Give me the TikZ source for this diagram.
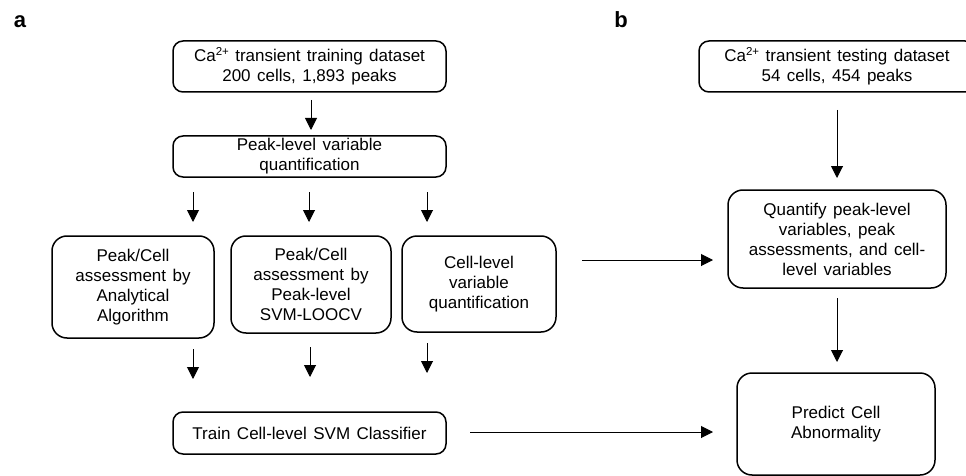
\documentclass[tikz,border=0pt]{standalone}
\usepackage{fontspec}
\setmainfont{Liberation Sans}
\usetikzlibrary{arrows.meta}
\newcommand{\ionsup}[1]{\raisebox{0.36em}{\fontsize{11.5}{11.5}\selectfont #1}}
\newcommand{\boxfont}{\fontsize{17}{20}\selectfont\spaceskip=0.38em plus 0.1em\relax}
\begin{document}
\begin{tikzpicture}[x=1pt,y=-1pt,
  box/.style={draw=black, line width=1.5pt, rounded corners=10pt, align=center,
    inner sep=0pt, font=\boxfont},
  arr/.style={line width=1pt, -{Triangle[width=12pt,length=12pt]}},
  panel/.style={font=\fontsize{22}{24}\selectfont\bfseries}]
\useasboundingbox (0,0) rectangle (966,476);
\clip (0,0) rectangle (966,476);

% panel letters
\node[panel] (la) at (20,22) {a};
\node[panel] (lb) at (621,20) {b};

% panel a boxes
\node[box, minimum width=273pt, minimum height=51pt] (train1) at (309.5,66.5)
  {Ca\ionsup{2+} transient training dataset\\200 cells, 1,893 peaks};
\node[box, minimum width=273pt, minimum height=41pt] (pq) at (309.5,156.5)
  {Peak-level variable\\quantification};
\node[box, rounded corners=15pt, minimum width=162pt, minimum height=102pt] (pa) at (133,287)
  {Peak/Cell\\assessment by\\Analytical\\Algorithm};
\node[box, rounded corners=15pt, minimum width=160pt, minimum height=97pt] (pb) at (311,284.5)
  {Peak/Cell\\assessment by\\Peak-level\\SVM-LOOCV};
\node[box, rounded corners=15pt, minimum width=154pt, minimum height=96pt] (cq) at (479,284)
  {Cell-level\\variable\\quantification};
\node[box, minimum width=273pt, minimum height=42pt] (tr) at (309.5,433)
  {Train Cell-level SVM Classifier};

% panel b boxes
\node[box, minimum width=276pt, minimum height=51pt] (test) at (837,66.5)
  {Ca\ionsup{2+} transient testing dataset\\54 cells, 454 peaks};
\node[box, rounded corners=15pt, minimum width=218pt, minimum height=98pt] (qv) at (837,239)
  {Quantify peak-level\\variables, peak\\assessments, and cell-\\level variables};
\node[box, rounded corners=15pt, minimum width=198pt, minimum height=102pt] (pr) at (836,424)
  {Predict Cell\\Abnormality};

% arrow end points
\coordinate (a1s) at (311,100);  \coordinate (a1e) at (311,130);
\coordinate (a2s) at (193,192);  \coordinate (a2e) at (193,222);
\coordinate (a3s) at (309,192);  \coordinate (a3e) at (309,222);
\coordinate (a4s) at (427,192);  \coordinate (a4e) at (427,222);
\coordinate (a5s) at (193,349);  \coordinate (a5e) at (193,379);
\coordinate (a6s) at (310,347);  \coordinate (a6e) at (310,377);
\coordinate (a7s) at (427,343);  \coordinate (a7e) at (427,373);
\coordinate (a8s) at (582,260);  \coordinate (a8e) at (713,260);
\coordinate (a9s) at (470,432);  \coordinate (a9e) at (713,432);
\coordinate (b1s) at (837,110);  \coordinate (b1e) at (837,178);
\coordinate (b2s) at (837,298);  \coordinate (b2e) at (837,362);

\draw[arr] (a1s) -- (a1e);
\draw[arr] (a2s) -- (a2e);
\draw[arr] (a3s) -- (a3e);
\draw[arr] (a4s) -- (a4e);
\draw[arr] (a5s) -- (a5e);
\draw[arr] (a6s) -- (a6e);
\draw[arr] (a7s) -- (a7e);
\draw[arr] (a8s) -- (a8e);
\draw[arr] (a9s) -- (a9e);
\draw[arr] (b1s) -- (b1e);
\draw[arr] (b2s) -- (b2e);
\end{tikzpicture}
\end{document}
